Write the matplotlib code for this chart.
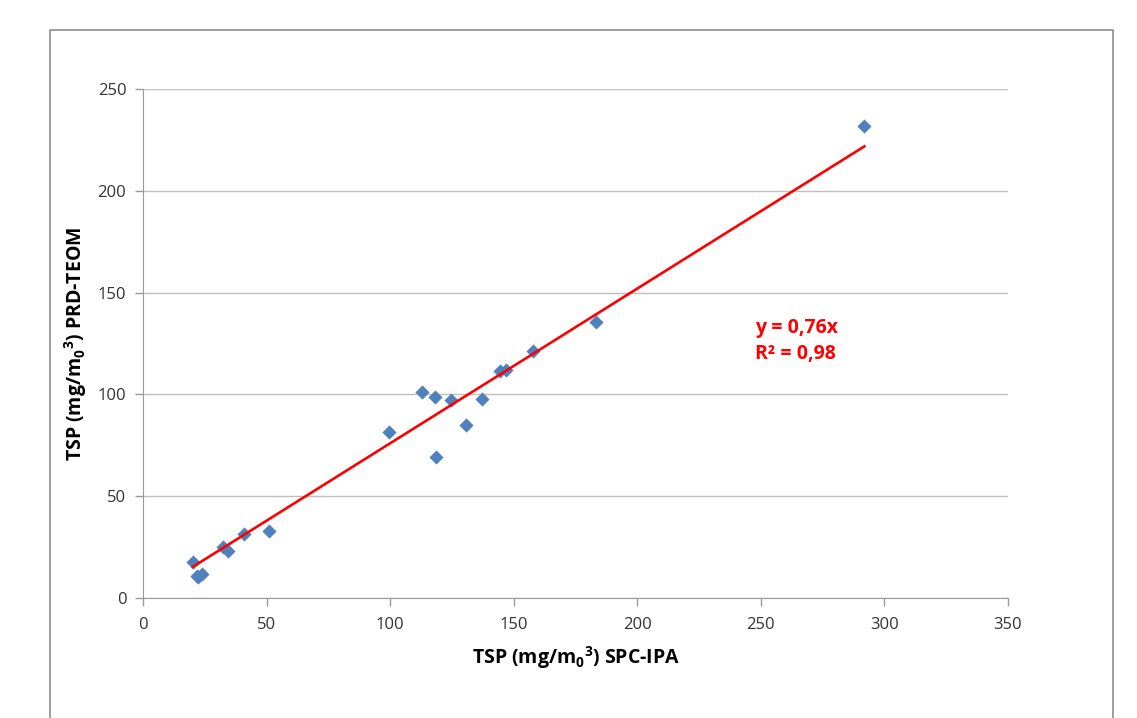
import numpy as np
import matplotlib.pyplot as plt
from matplotlib.lines import Line2D

# TSP concentrations, reference method vs. PRD-TEOM (mg/m0^3)
spc_ipa = np.array([20.1, 21.7, 22.4, 23.8, 32.2, 34.5, 41.0, 51.1,
                    99.7, 112.8, 118.2, 118.4, 124.5, 130.6, 137.1,
                    144.5, 146.8, 158.0, 183.3, 291.9])
prd_teom = np.array([17.8, 10.8, 10.2, 11.8, 25.2, 23.2, 31.3, 33.1,
                     81.4, 101.0, 98.6, 69.1, 97.4, 84.8, 97.9,
                     111.5, 112.0, 121.5, 135.7, 232.0])

slope = 0.76
r2 = 0.98

plt.rcParams['font.family'] = ['Open Sans', 'DejaVu Sans']
plt.rcParams['mathtext.fontset'] = 'custom'
plt.rcParams['mathtext.rm'] = 'Open Sans'
plt.rcParams['mathtext.bf'] = 'Open Sans:bold'
plt.rcParams['mathtext.default'] = 'bf'

fig = plt.figure(figsize=(11.37, 7.18), dpi=100)
ax = fig.add_axes([0.1258, 0.1671, 0.7607, 0.7089])

ax.scatter(spc_ipa, prd_teom, marker='D', s=52, color='#4F81BD', zorder=3, linewidths=0)

# trend line through the origin
xfit = np.array([spc_ipa.min(), spc_ipa.max()])
ax.plot(xfit, slope * xfit, color='#FF0000', lw=1.9, zorder=4)

ax.text(247.5, 132.6, f"y = {slope:.2f}x".replace('.', ','), color='#FF0000',
        fontsize=14, fontweight='bold', va='center')
ax.text(247.5, 119.8, f"R² = {r2:.2f}".replace('.', ','), color='#FF0000',
        fontsize=14, fontweight='bold', va='center')

ax.set_xlim(0, 350)
ax.set_ylim(0, 250)
ax.set_xticks(np.arange(0, 351, 50))
ax.set_yticks(np.arange(0, 251, 50))
ax.grid(axis='y', color='#BFBFBF', lw=1)
ax.set_axisbelow(True)

for side in ['top', 'right']:
    ax.spines[side].set_visible(False)
for side in ['left', 'bottom']:
    ax.spines[side].set_color('#9A9A9A')
ax.tick_params(colors='#9A9A9A', labelcolor='#333333', labelsize=12, length=6, width=1)
ax.tick_params(axis='x', pad=8)
ax.tick_params(axis='y', pad=6)

ax.set_xlabel(r"TSP (mg/m$_0$$^3$) SPC-IPA", fontsize=14, fontweight='bold', labelpad=8)
ax.set_ylabel(r"TSP (mg/m$_0$$^3$) PRD-TEOM", fontsize=14, fontweight='bold', labelpad=6)

# chart frame
fx = [50 / 1137, 50 / 1137, 1113 / 1137, 1113 / 1137]
fy = [-0.01, 1 - 30 / 718, 1 - 30 / 718, -0.01]
fig.add_artist(Line2D(fx, fy, transform=fig.transFigure, color='#8C8C8C', lw=1.2))

fig.savefig('out.png', dpi=100)
